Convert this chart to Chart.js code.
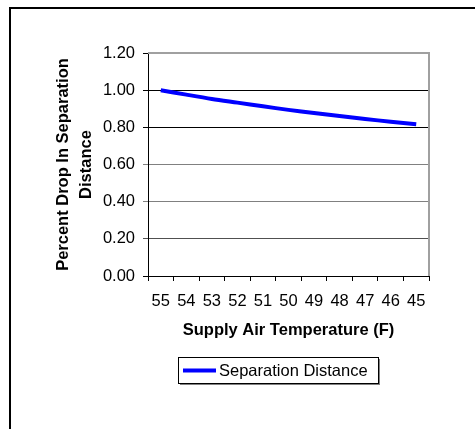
<!DOCTYPE html>
<html>
<head>
<meta charset="utf-8">
<script src="https://cdn.jsdelivr.net/npm/chart.js@4"></script>
<style>
  html, body { margin: 0; padding: 0; background: #fff; }
  #wrap { position: relative; width: 475px; height: 429px; overflow: hidden; }
  #frame { position: absolute; left: 9px; top: 7px; width: 500px; height: 500px; border: 2px solid #000; box-sizing: border-box; }
  canvas { position: absolute; left: 0; top: 0; }
</style>
</head>
<body>
<div id="wrap">
  <div id="frame"></div>
  <canvas id="chart" width="475" height="429"></canvas>
</div>
<script>
// supply air temperature (F)
const temperatures = ["55", "54", "53", "52", "51", "50", "49", "48", "47", "46", "45"];
// percent drop in separation distance
const separation = [1.00, 0.976, 0.953, 0.933, 0.913, 0.894, 0.877, 0.861, 0.845, 0.830, 0.816];
const seriesLabel = "Separation Distance";
const yTicks = [0, 0.2, 0.4, 0.6, 0.8, 1.0, 1.2];

const FONT = "Arial, 'Liberation Sans', sans-serif";

// gray border on top and right of the plot, and a boxed legend
const framePlugin = {
  id: "framePlugin",
  afterDraw(chart) {
    const { ctx, chartArea } = chart;
    ctx.save();
    ctx.strokeStyle = "#a0a0a0";
    ctx.lineWidth = 2;
    ctx.beginPath();
    ctx.moveTo(chartArea.left, chartArea.top);
    ctx.lineTo(chartArea.right, chartArea.top);
    ctx.lineTo(chartArea.right, chartArea.bottom);
    ctx.stroke();

    // legend
    const ds = chart.data.datasets[0];
    const bx = 178, by = 357, bw = 200, bh = 26;
    ctx.fillStyle = "#808080";
    ctx.fillRect(bx + 2, by + 2, bw, bh);
    ctx.fillStyle = "#fff";
    ctx.fillRect(bx, by, bw, bh);
    ctx.strokeStyle = "#000";
    ctx.lineWidth = 1;
    ctx.strokeRect(bx + 0.5, by + 0.5, bw, bh);
    ctx.strokeStyle = ds.borderColor;
    ctx.lineWidth = 4;
    ctx.beginPath();
    ctx.moveTo(bx + 5, by + 13.5);
    ctx.lineTo(bx + 38, by + 13.5);
    ctx.stroke();
    ctx.fillStyle = "#000";
    ctx.font = "16.5px " + FONT;
    ctx.textBaseline = "middle";
    ctx.fillText(ds.label, bx + 41, by + 14);
    ctx.restore();
  }
};

function gridColor(ctx) {
  const v = ctx.tick ? ctx.tick.value : null;
  if (v === 0.6 || v === 0.4) return "#808080";
  if (v === 0.2) return "#505050";
  return "#000";
}

new Chart(document.getElementById("chart"), {
  type: "line",
  data: {
    labels: temperatures,
    datasets: [{
      label: seriesLabel,
      data: separation,
      borderColor: "#0000ff",
      borderWidth: 4,
      pointRadius: 0,
      tension: 0.3,
      fill: false
    }]
  },
  options: {
    responsive: false,
    animation: false,
    layout: { padding: { left: 0, top: 53, right: 46, bottom: 89 } },
    plugins: { legend: { display: false }, tooltip: { enabled: false } },
    scales: {
      x: {
        offset: true,
        afterFit: (s) => { s.height = 64; },
        grid: { offset: true, drawOnChartArea: false, drawTicks: true, tickLength: 5, color: "#000" },
        border: { color: "#000", width: 1 },
        ticks: { color: "#000", padding: 11, maxRotation: 0, autoSkip: false, font: { family: FONT, size: 16.5 } },
        title: {
          display: true,
          text: "Supply Air Temperature (F)",
          color: "#000",
          padding: { top: 0, bottom: 0 },
          font: { family: FONT, size: 16.5, weight: "bold", lineHeight: 1.2 }
        }
      },
      y: {
        min: 0,
        max: 1.2,
        afterFit: (s) => { s.width = 148; },
        afterBuildTicks: (s) => { s.ticks = yTicks.map(v => ({ value: v })); },
        grid: { color: gridColor, tickLength: 5 },
        border: { color: "#000", width: 1 },
        ticks: {
          color: "#000",
          padding: 8,
          font: { family: FONT, size: 16.5 },
          callback: (v) => Number(v).toFixed(2)
        },
        title: {
          display: true,
          text: ["Percent Drop In Separation", "Distance"],
          color: "#000",
          padding: { top: 52, bottom: 0 },
          font: { family: FONT, size: 16.5, weight: "bold", lineHeight: 1.4 }
        }
      }
    }
  },
  plugins: [framePlugin]
});
</script>
</body>
</html>
